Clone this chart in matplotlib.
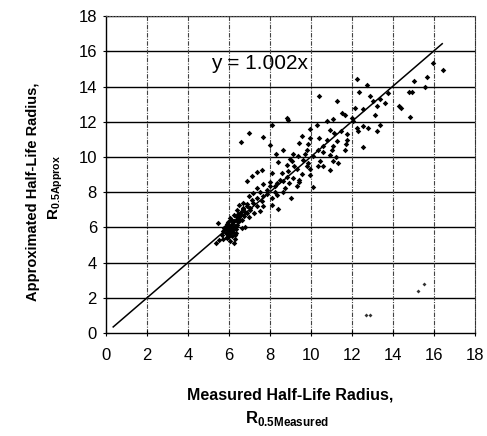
import matplotlib
matplotlib.use('Agg')
import matplotlib.pyplot as plt
import numpy as np

# ── Data ─────────────────────────────────────────────────────────────────────
MEASURED = [
    15.97, 16.42, 15.64, 12.23, 12.72, 15.02, 15.56, 14.93, 14.80, 12.36,
    10.41, 12.88, 13.77, 13.37, 11.28, 13.63, 13.04, 12.15, 13.20, 12.55,
    14.31, 14.37, 11.50, 11.66, 13.12, 14.83, 8.81, 8.90, 11.09, 10.80,
    11.98, 12.07, 8.08, 10.28, 12.55, 12.80, 13.37, 12.23, 9.95, 10.93,
    12.31, 13.24, 6.99, 7.64, 11.14, 11.45, 11.74, 9.54, 10.41, 9.95,
    10.80, 11.25, 11.74, 6.57, 9.43, 9.87, 11.71, 10.60, 11.09, 8.00,
    12.52, 11.66, 11.01, 10.33, 9.79, 10.60, 9.14, 9.71, 8.62, 8.29,
    10.93, 9.38, 10.11, 11.22, 8.98, 11.09, 9.06, 10.44, 11.33, 9.87,
    9.63, 8.41, 8.81, 10.60, 9.17, 9.79, 10.36, 9.30, 9.95, 7.62,
    7.35, 10.93, 8.89, 8.08, 8.60, 7.11, 9.54, 9.95, 8.81, 9.11,
    8.49, 8.65, 9.43, 8.00, 6.86, 9.43, 8.95, 8.33, 7.67, 8.24,
    8.00, 10.08, 9.30, 8.73, 7.35, 7.51, 7.84, 8.24, 8.62, 7.19,
    7.87, 7.67, 8.33, 6.99, 9.02, 7.35, 8.08, 7.11, 7.59, 6.67,
    6.86, 7.19, 8.08, 7.35, 7.67, 8.41, 6.49, 7.02, 6.70, 6.37,
    7.51, 6.86, 7.22, 6.54, 6.24, 6.73, 6.37, 6.05, 6.99, 6.62,
    6.21, 5.97, 6.46, 5.48, 5.89, 6.37, 6.08, 5.80, 6.78, 6.21,
    5.97, 5.72, 6.05, 5.85, 6.34, 5.64, 6.13, 5.92, 5.72, 6.29,
    5.53, 6.05, 5.37, 6.24, 5.90, 6.00, 6.10, 5.95, 6.05, 6.15,
    5.85, 6.00, 6.20, 5.90, 6.10, 6.30, 6.40, 6.25, 6.50, 6.60,
    6.45, 6.80, 6.90, 7.00, 6.70, 6.55, 6.35, 5.75, 6.30, 6.62,
    12.70, 12.90, 15.24, 15.51,
]
APPROX = [
    15.32, 14.94, 14.56, 14.41, 14.07, 14.32, 13.99, 13.69, 13.69, 13.69,
    13.46, 13.46, 13.61, 13.27, 13.17, 13.04, 13.17, 12.79, 12.89, 12.70,
    12.89, 12.79, 12.51, 12.41, 12.36, 12.28, 12.22, 12.13, 12.17, 12.03,
    12.22, 12.03, 11.84, 11.79, 11.75, 11.65, 11.79, 11.65, 11.60, 11.56,
    11.46, 11.46, 11.37, 11.14, 11.37, 11.46, 11.33, 11.18, 11.08, 11.08,
    10.99, 10.89, 10.99, 10.84, 10.80, 10.76, 10.76, 10.65, 10.61, 10.68,
    10.57, 10.42, 10.38, 10.38, 10.42, 10.27, 10.19, 10.19, 10.42, 10.19,
    10.13, 10.04, 10.04, 10.00, 9.89, 9.75, 9.75, 9.75, 9.66, 9.66,
    9.81, 9.70, 9.56, 9.47, 9.51, 9.47, 9.51, 9.32, 9.32, 9.28,
    9.13, 9.24, 9.18, 9.09, 9.09, 8.94, 9.05, 9.00, 8.86, 8.80,
    8.71, 8.61, 8.71, 8.56, 8.61, 8.56, 8.52, 8.52, 8.46, 8.37,
    8.33, 8.29, 8.33, 8.23, 8.23, 8.04, 8.10, 8.04, 8.04, 7.95,
    7.91, 7.76, 7.85, 7.76, 7.66, 7.66, 7.66, 7.57, 7.51, 7.41,
    7.34, 7.38, 7.28, 7.22, 7.19, 7.03, 7.28, 7.09, 7.03, 7.00,
    6.96, 6.84, 6.81, 6.77, 6.71, 6.65, 6.58, 6.52, 6.62, 6.43,
    6.39, 6.33, 6.33, 6.27, 6.20, 6.14, 6.08, 6.05, 6.01, 5.89,
    5.86, 5.82, 5.70, 5.67, 5.67, 5.57, 5.51, 5.44, 5.36, 5.32,
    5.29, 5.25, 5.13, 5.13, 5.90, 6.10, 5.80, 5.65, 5.95, 6.20,
    6.05, 5.50, 5.75, 5.40, 6.40, 6.10, 6.50, 6.35, 6.60, 6.90,
    6.75, 6.90, 7.20, 7.00, 7.10, 6.45, 5.90, 5.95, 5.55, 5.95,
    1.00, 1.00, 2.38, 2.81,
]
SLOPE = 1.002
FIT_RANGE = [0.35, 16.4]
TICKS = list(range(0, 19, 2))

plt.rcParams['font.family'] = ['Liberation Sans', 'DejaVu Sans']
plt.rcParams['mathtext.fontset'] = 'custom'
plt.rcParams['mathtext.rm'] = 'Liberation Sans'
plt.rcParams['mathtext.bf'] = 'Liberation Sans:bold'

fig = plt.figure(figsize=(4.87, 4.36), dpi=100)
ax = fig.add_axes([0.2177, 0.236, 0.7577, 0.727])

# grid: solid horizontals, dashed verticals
for t in TICKS[1:]:
    ax.axhline(t, color='black', linewidth=1.0, zorder=1)
for t in TICKS[1:-1]:
    ax.axvline(t, color='#444444', linewidth=0.8, linestyle=(0, (4, 1.2, 1, 1.2)), zorder=1)

ax.scatter(MEASURED[:-4], APPROX[:-4], marker='D', s=8, color='black', linewidths=0, zorder=3)
# faint stray points near the bottom right
ax.scatter(MEASURED[-4:], APPROX[-4:], marker='D', s=4, color='#333333', linewidths=0, zorder=3)

fit_x = np.array(FIT_RANGE)
ax.plot(fit_x, SLOPE * fit_x, color='black', linewidth=1.1, zorder=2)
ax.text(5.1, 15.3, f'y = {SLOPE}x', fontsize=15, va='center', ha='left', zorder=4)

ax.set_xlim(0, 18)
ax.set_ylim(0, 18)
ax.set_xticks(TICKS)
ax.set_yticks(TICKS)
ax.tick_params(direction='inout', length=5, width=0.8, labelsize=12, pad=4)
ax.tick_params(axis='x', pad=8)

ax.spines['top'].set_linestyle(':')
ax.spines['top'].set_color('#555555')
ax.spines['right'].set_linestyle((0, (4, 1.2, 1, 1.2)))
ax.spines['right'].set_color('#333333')
for s in ['left', 'bottom']:
    ax.spines[s].set_linewidth(1.0)

fig.text(0.595, 0.094, 'Measured Half-Life Radius,', ha='center', va='center',
         fontsize=11.5, fontweight='bold')
fig.text(0.59, 0.040, r'$\mathbf{R}_{\mathbf{0.5Measured}}$', ha='center', va='center',
         fontsize=12)
fig.text(0.068, 0.56, 'Approximated Half-Life Radius,', ha='center', va='center',
         fontsize=10.5, fontweight='bold', rotation=90)
fig.text(0.115, 0.57, r'$\mathbf{R}_{\mathbf{0.5Approx}}$', ha='center', va='center',
         fontsize=11, rotation=90)

fig.savefig('out.png', dpi=100)
